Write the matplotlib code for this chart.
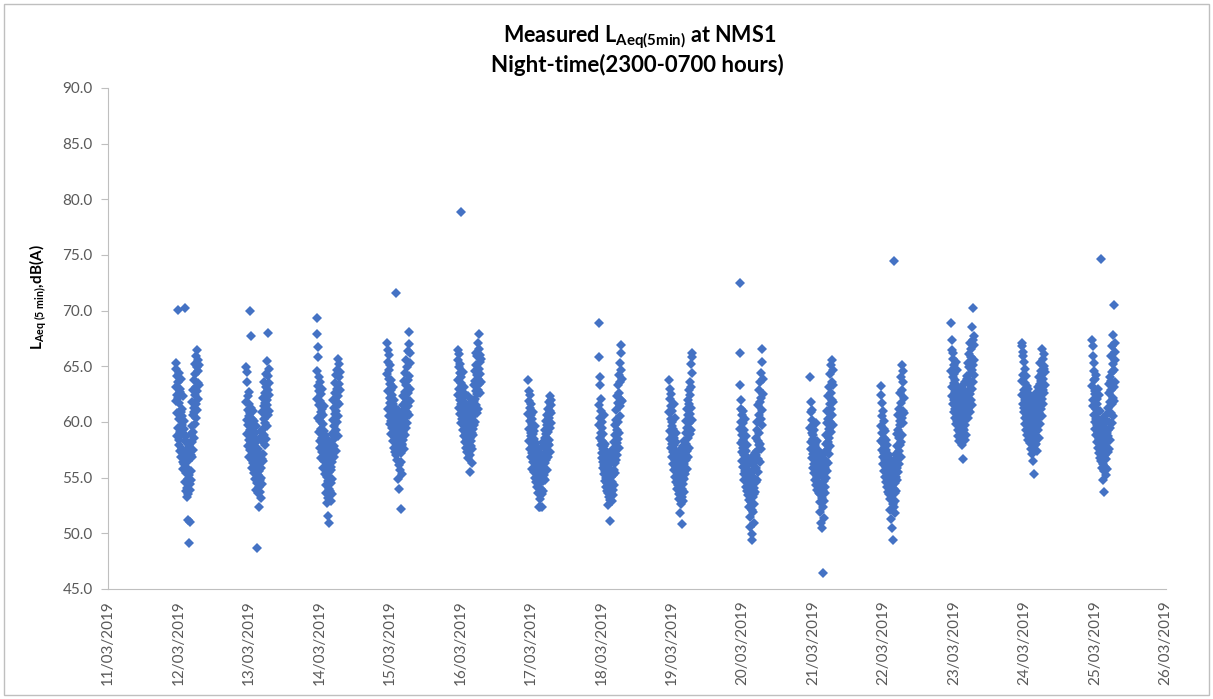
import numpy as np
import matplotlib
matplotlib.use("Agg")
import matplotlib.pyplot as plt
import matplotlib.dates as mdates
from matplotlib.patches import Rectangle

plt.rcParams["font.family"] = ["Lato", "DejaVu Sans"]
plt.rcParams["mathtext.fontset"] = "custom"
plt.rcParams["mathtext.rm"] = "Lato"
plt.rcParams["mathtext.it"] = "Lato:italic"
plt.rcParams["mathtext.bf"] = "Lato:bold"

# nights are labelled by the morning date; readings every 5 min from 23:00 to 07:00
night_dates = ["2019-03-12", "2019-03-13", "2019-03-14", "2019-03-15", "2019-03-16",
               "2019-03-17", "2019-03-18", "2019-03-19", "2019-03-20", "2019-03-21",
               "2019-03-22", "2019-03-23", "2019-03-24", "2019-03-25"]

laeq_1203 = [63.1, 64.8, 61.9, 65.3, 62.4, 58.7, 64.1, 60.8, 63.6, 59.5, 70.1, 62.2, 57.9, 64.4, 60.3, 61.7, 58.4, 63.0,
             59.1, 62.7, 57.4, 60.9, 58.8, 63.9, 56.9, 61.2, 59.7, 57.6, 60.5, 56.4, 58.9, 62.3, 55.8, 59.4, 57.2, 60.1,
             56.2, 58.3, 54.6, 57.1, 70.2, 55.4, 53.8, 58.7, 56.8, 54.1, 57.6, 53.3, 55.9, 51.2, 56.5, 54.9, 53.5, 57.9,
             49.1, 55.2, 58.1, 54.4, 56.9, 53.9, 51.0, 57.3, 55.6, 58.9, 54.8, 57.0,
             59.6, 56.9, 61.8, 58.2, 60.6, 57.5, 62.9, 59.1, 61.3, 63.8, 58.6, 60.9, 65.2, 62.4, 59.8, 64.3, 61.6, 63.1,
             65.9, 60.4, 62.8, 64.9, 66.5, 61.1, 63.5, 65.6, 62.1, 64.6, 63.3, 65.1]
laeq_1303 = [64.9, 61.8, 63.6, 60.2, 64.5, 58.9, 62.3, 59.7, 61.1, 57.8, 62.7, 60.5, 58.4, 61.6, 56.9, 59.3, 60.8, 57.5,
             70.0, 61.3, 58.1, 59.9, 67.7, 56.6, 60.3, 58.7, 55.9, 59.5, 57.2, 61.0, 56.3, 58.5, 60.1, 55.4, 57.8, 59.0,
             56.4, 58.1, 54.9, 57.4, 55.7, 59.6, 53.9, 48.7, 56.8, 54.5, 58.4, 55.2, 53.6, 57.6, 56.0, 54.2, 52.4, 55.6,
             57.1, 53.7, 56.3, 54.8, 58.6, 55.0, 53.2, 57.0, 55.9, 59.2, 54.4, 56.7,
             58.3, 60.9, 57.1, 62.2, 59.4, 56.5, 61.4, 58.8, 63.6, 60.3, 57.9, 62.6, 59.9, 61.7, 64.3, 58.5, 60.8, 63.1,
             62.0, 65.5, 59.6, 61.5, 64.1, 60.6, 68.0, 62.9, 63.5, 61.0, 64.8, 62.4]
laeq_1403 = [69.3, 64.6, 67.9, 62.1, 66.7, 60.4, 65.8, 63.2, 59.1, 64.0, 61.5, 62.8, 58.3, 63.6, 60.1, 61.9, 57.7, 62.5,
             59.4, 60.9, 56.8, 61.2, 58.6, 63.0, 57.3, 59.8, 55.9, 60.6, 58.0, 56.5, 59.2, 57.5, 61.4, 55.3, 58.8, 57.0,
             55.8, 57.9, 54.3, 56.9, 53.6, 58.5, 55.1, 52.7, 57.3, 54.7, 56.2, 53.2, 51.6, 55.5, 57.7, 54.0, 50.9, 56.6,
             53.8, 55.0, 58.2, 54.5, 56.0, 52.9, 57.1, 55.7, 53.5, 58.9, 56.4, 54.9,
             57.6, 60.2, 58.4, 62.0, 56.9, 59.6, 61.3, 57.8, 63.5, 60.7, 58.9, 62.6, 59.3, 64.2, 61.0, 57.4, 63.0, 60.0,
             64.7, 61.8, 58.7, 65.7, 62.3, 60.5, 64.0, 63.4, 61.6, 65.2, 62.9, 64.5]
laeq_1503 = [67.1, 64.3, 66.5, 62.8, 65.4, 61.2, 63.9, 66.0, 60.5, 64.7, 62.2, 59.8, 63.4, 61.7, 65.1, 60.1, 62.9, 58.9,
             63.8, 61.0, 59.5, 62.4, 60.7, 58.3, 63.1, 59.9, 61.6, 57.7, 60.3, 62.0, 58.7, 61.3, 59.2, 57.3, 60.8, 58.1,
             71.6, 59.6, 57.0, 60.4, 58.5, 56.6, 59.3, 57.8, 61.1, 54.9, 58.2, 60.0, 56.1, 59.0, 54.0, 57.5, 58.8, 55.7,
             60.6, 52.2, 57.2, 59.4, 56.4, 58.0, 60.2, 57.9, 55.3, 59.7, 58.4, 61.5,
             59.1, 62.3, 60.4, 57.6, 63.7, 61.1, 58.8, 62.7, 60.0, 64.4, 61.8, 59.5, 63.3, 65.6, 60.9, 62.1, 64.9, 59.9,
             63.8, 61.4, 66.4, 62.6, 67.0, 60.6, 64.1, 68.1, 63.0, 65.3, 61.9, 66.2]
laeq_1603 = [66.5, 63.8, 65.6, 62.4, 64.9, 61.3, 66.1, 63.0, 60.7, 64.4, 62.0, 65.2, 78.9, 61.6, 63.5, 59.9, 64.0, 62.7,
             60.3, 63.2, 61.1, 59.3, 62.2, 64.5, 60.0, 61.8, 58.7, 63.1, 60.9, 58.2, 62.5, 59.6, 61.4, 57.7, 60.5, 59.0,
             61.0, 58.4, 60.2, 57.3, 59.5, 62.3, 58.0, 56.8, 60.8, 58.9, 57.5, 61.5, 59.2, 57.0, 55.5, 58.6, 60.4, 57.8,
             59.8, 61.7, 58.3, 56.3, 60.1, 59.0, 62.0, 57.6, 60.6, 58.8, 61.2, 59.4,
             61.9, 59.7, 63.3, 60.6, 64.6, 62.1, 60.0, 63.7, 65.1, 61.5, 62.8, 66.2, 60.8, 64.2, 62.5, 65.9, 61.2, 63.9,
             67.1, 62.9, 64.8, 66.6, 63.4, 67.9, 65.4, 62.6, 66.0, 64.3, 65.7, 63.6]
laeq_1703 = [63.8, 60.7, 62.8, 59.4, 61.9, 58.3, 62.4, 60.1, 57.6, 61.3, 59.0, 60.6, 56.9, 61.6, 58.7, 59.8, 57.2, 60.3,
             55.8, 58.9, 57.9, 60.9, 56.4, 59.2, 57.4, 55.5, 58.5, 56.7, 59.6, 55.0, 57.7, 56.2, 58.1, 54.6, 57.0, 55.9,
             56.5, 54.2, 57.3, 55.4, 53.6, 56.8, 54.8, 52.4, 55.9, 57.6, 54.4, 53.1, 56.2, 55.1, 52.4, 57.0, 53.9, 55.7,
             54.0, 56.6, 52.4, 55.3, 53.5, 57.8, 54.7, 56.0, 53.8, 58.2, 55.6, 54.9,
             57.1, 55.2, 58.6, 56.3, 59.3, 54.8, 57.7, 60.1, 56.6, 58.9, 55.7, 59.7, 57.4, 60.6, 58.0, 61.2, 56.9, 59.1,
             61.8, 57.9, 60.4, 58.4, 62.3, 59.5, 61.0, 57.3, 60.8, 62.0, 59.9, 61.5]
laeq_1803 = [68.9, 61.5, 65.8, 59.7, 64.0, 58.6, 63.3, 60.4, 57.9, 62.1, 59.0, 61.0, 57.2, 60.0, 58.3, 56.8, 59.5, 57.6,
             55.9, 58.9, 56.4, 60.6, 55.3, 57.8, 56.1, 54.7, 58.0, 55.6, 57.1, 54.2, 56.7, 55.0, 57.4, 53.8, 56.0, 54.5,
             55.4, 53.6, 56.6, 54.1, 52.5, 55.8, 53.3, 57.0, 54.8, 53.0, 56.2, 54.4, 51.1, 55.1, 53.7, 57.3, 54.0, 55.5,
             52.9, 56.4, 54.6, 53.4, 57.6, 55.2, 53.9, 56.9, 54.3, 58.2, 55.7, 57.1,
             56.3, 58.8, 55.4, 59.7, 57.5, 61.1, 56.6, 60.2, 58.1, 62.3, 57.0, 59.3, 61.7, 58.5, 63.3, 60.0, 57.7, 62.6,
             59.0, 64.2, 61.4, 65.3, 60.5, 63.6, 66.2, 62.0, 66.9, 64.7, 61.9, 63.9]
laeq_1903 = [63.8, 60.9, 63.0, 59.2, 62.1, 58.5, 61.4, 60.3, 57.7, 62.5, 59.6, 58.0, 61.0, 56.9, 60.0, 58.8, 57.3, 59.4,
             56.2, 61.6, 57.9, 55.7, 58.6, 60.4, 56.6, 57.5, 55.1, 59.0, 56.0, 54.6, 58.2, 55.5, 57.1, 54.0, 56.4, 55.2,
             56.8, 54.3, 55.9, 53.5, 57.4, 54.8, 53.1, 56.1, 51.8, 55.3, 53.8, 57.0, 54.6, 52.6, 55.7, 50.8, 54.0, 56.5,
             53.3, 55.0, 52.9, 57.8, 54.4, 56.2, 53.7, 55.5, 58.3, 54.9, 56.9, 55.8,
             57.2, 55.3, 59.0, 56.6, 60.1, 58.0, 55.8, 61.2, 57.4, 59.5, 62.0, 56.9, 60.6, 58.6, 62.9, 57.7, 61.6, 59.9,
             63.6, 58.9, 62.4, 60.7, 65.2, 59.3, 63.1, 61.3, 66.2, 64.4, 60.2, 65.8]
laeq_2003 = [66.2, 72.5, 63.3, 59.4, 62.0, 58.1, 61.2, 60.0, 57.3, 60.6, 58.8, 56.5, 59.9, 57.7, 61.0, 56.0, 58.4, 55.3,
             59.3, 57.0, 54.8, 58.0, 56.3, 60.3, 55.6, 57.4, 54.2, 58.7, 56.7, 53.8, 57.9, 55.0, 56.9, 53.4, 56.1, 54.5,
             55.7, 53.0, 54.9, 52.4, 56.4, 53.6, 51.5, 55.2, 50.6, 54.3, 52.8, 56.8, 53.9, 49.9, 52.1, 55.5, 49.4, 53.3,
             54.7, 51.9, 56.1, 53.5, 50.9, 55.0, 54.1, 52.6, 57.2, 55.8, 53.7, 56.5,
             57.0, 54.6, 58.6, 55.9, 60.0, 57.4, 54.8, 59.3, 56.7, 61.5, 58.3, 55.5, 60.6, 57.9, 62.9, 59.0, 56.4, 61.8,
             58.0, 63.6, 60.3, 64.4, 57.6, 62.2, 65.4, 59.7, 66.6, 61.1, 63.9, 62.5]
laeq_2103 = [64.0, 59.5, 61.8, 58.2, 60.9, 57.6, 60.2, 59.0, 56.8, 61.1, 58.5, 57.1, 59.7, 55.9, 58.8, 57.4, 56.2, 59.3,
             55.4, 58.0, 56.6, 54.8, 57.8, 59.9, 55.7, 56.9, 54.3, 58.3, 55.1, 57.2, 53.9, 56.1, 54.6, 57.5, 55.3, 53.6,
             56.4, 54.1, 55.6, 52.8, 57.0, 53.5, 51.9, 55.2, 54.4, 50.9, 56.0, 53.2, 55.7, 50.5, 54.0, 52.4, 46.4, 55.4,
             53.8, 51.4, 56.7, 54.7, 52.9, 55.9, 54.2, 57.3, 53.6, 56.2, 55.0, 58.0,
             56.5, 58.8, 55.6, 59.9, 57.5, 61.0, 56.3, 60.3, 58.2, 62.3, 57.1, 59.4, 63.1, 58.6, 61.6, 60.0, 64.3, 57.8,
             62.6, 59.1, 65.1, 61.2, 63.6, 60.6, 65.6, 62.0, 64.7, 59.7, 63.3, 61.8]
laeq_2203 = [63.2, 59.6, 62.4, 58.3, 61.7, 57.5, 60.5, 59.0, 56.9, 61.0, 58.1, 56.2, 59.4, 57.2, 60.1, 55.6, 58.6, 56.6,
             57.8, 55.1, 59.2, 56.0, 54.6, 57.5, 58.4, 55.4, 56.8, 54.2, 57.9, 55.8, 53.7, 56.4, 54.9, 57.0, 53.5, 55.7,
             54.4, 56.1, 53.1, 55.3, 52.1, 54.7, 56.5, 53.4, 51.3, 55.0, 53.9, 50.5, 54.3, 52.6, 55.7, 53.0, 49.4, 54.0,
             52.4, 74.5, 56.2, 53.6, 51.8, 55.5, 54.5, 52.9, 57.1, 55.1, 53.8, 56.8,
             55.9, 57.8, 54.8, 58.9, 56.7, 60.6, 55.5, 59.3, 57.4, 61.2, 56.2, 58.6, 62.6, 57.9, 60.1, 59.7, 64.0, 58.2,
             61.7, 56.9, 65.1, 60.4, 62.9, 58.8, 63.6, 61.0, 64.6, 59.9, 62.2, 60.8]
laeq_2303 = [68.9, 64.6, 67.4, 63.1, 66.5, 62.3, 65.7, 64.0, 61.6, 66.2, 63.5, 62.0, 65.1, 60.9, 64.3, 62.7, 61.2, 63.8,
             60.4, 65.4, 62.2, 59.8, 63.3, 61.5, 64.7, 60.1, 62.5, 59.3, 61.9, 63.0, 58.7, 61.0, 59.9, 62.8, 58.3, 60.6,
             61.4, 59.1, 62.1, 60.2, 58.6, 61.7, 59.6, 63.2, 57.9, 60.8, 62.4, 59.4, 56.7, 61.2, 60.0, 58.9, 62.9, 59.3,
             61.6, 58.4, 60.5, 63.6, 59.7, 61.9, 60.3, 62.6, 58.8, 61.3, 63.9, 60.7,
             62.2, 64.1, 61.1, 65.3, 62.8, 60.4, 66.1, 63.4, 61.8, 64.9, 62.5, 67.1, 63.7, 60.9, 65.8, 64.4, 62.0, 66.6,
             63.0, 68.5, 64.7, 61.5, 67.4, 65.1, 70.2, 63.6, 66.9, 64.2, 65.6, 67.7]
laeq_2403 = [66.8, 63.7, 67.1, 62.4, 65.9, 61.6, 66.3, 64.2, 60.9, 65.4, 62.9, 61.3, 64.8, 60.4, 63.5, 62.0, 59.8, 64.1,
             61.1, 62.7, 59.3, 63.2, 60.6, 58.8, 62.2, 61.5, 59.9, 63.0, 58.4, 60.8, 62.5, 59.5, 61.8, 58.1, 60.2, 59.1,
             60.6, 58.6, 61.4, 57.6, 59.7, 62.0, 58.9, 57.1, 60.3, 61.7, 59.2, 56.5, 60.9, 58.2, 62.3, 59.9, 55.3, 58.7,
             61.0, 57.9, 60.1, 62.6, 59.4, 58.0, 61.3, 60.4, 57.4, 59.6, 62.1, 60.7,
             59.3, 61.9, 60.3, 63.1, 58.6, 62.4, 64.0, 60.8, 63.4, 61.5, 65.3, 59.8, 62.8, 64.6, 61.2, 63.7, 66.6, 62.1,
             64.3, 60.5, 65.7, 62.9, 63.9, 61.6, 65.0, 64.8, 62.6, 66.1, 63.3, 64.5]
laeq_2503 = [67.4, 63.2, 66.8, 62.0, 65.9, 61.4, 65.3, 63.8, 60.6, 64.6, 62.5, 60.0, 63.9, 59.4, 62.8, 61.2, 58.8, 64.2,
             60.3, 62.1, 58.2, 61.6, 59.7, 63.0, 57.7, 60.9, 59.1, 62.4, 57.2, 60.2, 58.5, 61.0, 56.8, 59.6, 58.0, 57.4,
             58.9, 56.5, 74.6, 59.8, 57.1, 55.9, 58.3, 60.4, 56.2, 54.8, 57.7, 59.2, 55.6, 58.6, 53.7, 57.0, 56.0, 59.5,
             57.9, 55.2, 58.1, 60.1, 56.7, 57.5, 59.0, 55.8, 58.4, 60.7, 57.3, 59.3,
             58.7, 61.3, 57.6, 62.6, 60.0, 63.4, 58.4, 61.8, 64.0, 59.5, 62.9, 65.9, 60.8, 63.7, 61.6, 66.8, 59.9, 64.5,
             62.2, 67.8, 60.5, 65.2, 63.1, 70.5, 64.7, 61.9, 66.3, 63.6, 65.6, 67.1]

nights = [laeq_1203, laeq_1303, laeq_1403, laeq_1503, laeq_1603, laeq_1703, laeq_1803,
          laeq_1903, laeq_2003, laeq_2103, laeq_2203, laeq_2303, laeq_2403, laeq_2503]

y_ticks = [45, 50, 55, 60, 65, 70, 75, 80, 85, 90]

W, H = 1213, 699
fig = plt.figure(figsize=(W / 100, H / 100), dpi=100)
ax = fig.add_axes([108 / W, 1 - 589 / H, (1165.5 - 108) / W, (589 - 88) / H])

for day, vals in zip(night_dates, nights):
    start = np.datetime64(day + "T00:00") - np.timedelta64(60, "m")
    times = start + np.arange(len(vals)) * np.timedelta64(5, "m")
    ax.plot(times, vals, linestyle="none", marker="D", markersize=4.8,
            color="#4472C4", markeredgewidth=0)

ax.set_xlim(np.datetime64("2019-03-11"), np.datetime64("2019-03-26"))
ax.set_ylim(45, 90)
ax.xaxis.set_major_locator(mdates.DayLocator())
ax.xaxis.set_major_formatter(mdates.DateFormatter("%d/%m/%Y"))
ax.set_yticks(y_ticks)
ax.set_yticklabels([f"{v:.1f}" for v in y_ticks])

for lab in ax.get_xticklabels():
    lab.set_rotation(90)
ax.tick_params(axis="x", length=0, pad=8, labelsize=11, labelcolor="#595959")
ax.tick_params(axis="y", length=5, width=0.8, color="#BFBFBF", pad=6, labelsize=11, labelcolor="#595959")

for side in ["top", "right"]:
    ax.spines[side].set_visible(False)
for side in ["left", "bottom"]:
    ax.spines[side].set_color("#BFBFBF")
    ax.spines[side].set_linewidth(0.8)

fig.text(640 / W, 1 - 37 / H, r"Measured L$_{\mathbf{Aeq(5min)}}$ at NMS1",
         ha="center", va="center", fontsize=15.5, fontweight="bold")
fig.text(637 / W, 1 - 65 / H, "Night-time(2300-0700 hours)",
         ha="center", va="center", fontsize=16, fontweight="bold")
fig.text(38 / W, 1 - 297 / H, r"L$_{\mathbf{Aeq\ (5\ min)}}$,dB(A)",
         ha="center", va="center", rotation=90, fontsize=11, fontweight="bold")

fig.patches.append(Rectangle((4 / W, 4 / H), (W - 8) / W, (H - 8) / H, transform=fig.transFigure,
                             fill=False, edgecolor="#BFBFBF", linewidth=1))

fig.savefig("out.png", dpi=100)
